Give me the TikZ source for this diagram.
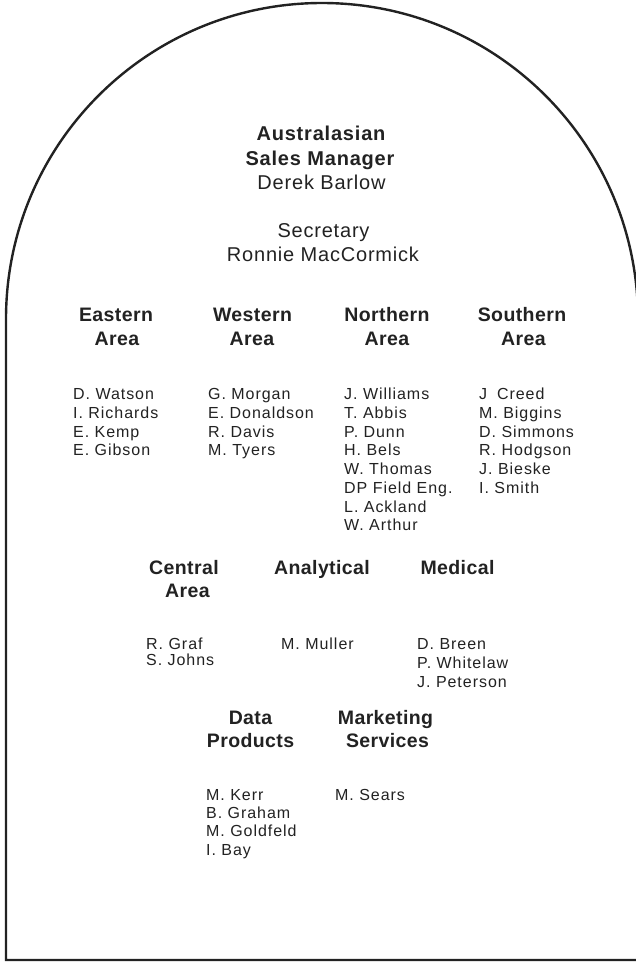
\documentclass[tikz,border=0pt]{standalone}
\usepackage{fontspec}
\setmainfont{Liberation Sans}
\newfontfamily\nmfam[LetterSpace=6]{Liberation Sans}
\newfontfamily\hdfam[LetterSpace=2]{Liberation Sans}
\newfontfamily\tlfam[LetterSpace=4]{Liberation Sans}
\definecolor{ink}{HTML}{222222}
\tikzset{
  nm/.style={anchor=base west, inner sep=0pt, text=ink, font=\nmfam\fontsize{16}{19}\selectfont},
  hd/.style={anchor=base, inner sep=0pt, text=ink, font=\hdfam\bfseries\fontsize{19.5}{23}\selectfont},
  tb/.style={anchor=base, inner sep=0pt, text=ink, font=\tlfam\bfseries\fontsize{20}{24}\selectfont},
  tr/.style={anchor=base, inner sep=0pt, text=ink, font=\tlfam\fontsize{20}{24}\selectfont},
  archline/.style={draw=ink, line width=2.4pt, line join=miter}
}
\newcommand\namecol[5]{%
  \foreach \t [count=\i] in {#5} {\node[nm] (#1\i) at (#2, {#3+(\i-1)*#4}) {\t};}%
}
\begin{document}
\begin{tikzpicture}[x=1pt, y=-1pt]
\useasboundingbox (0,0) rectangle (636,963);
\clip (0,0) rectangle (636,963);
\fill[white] (0,0) rectangle (636,963);
% arch outline
\draw[archline] (6,960) -- (6,319) arc[start angle=180, end angle=360, radius=316] -- (638,960) -- cycle;
% title block
\node[tb] (t1) at (321,140) {Australasian};
\node[tb] (t2) at (320,165) {Sales Manager};
\node[tr] (t3) at (321.5,189) {Derek Barlow};
\node[tr] (t4) at (323.5,237.3) {Secretary};
\node[tr] (t5) at (323,261.7) {Ronnie MacCormick};
% row 1 headings
\node[hd] (ea1) at (116,321.7) {Eastern};
\node[hd] (ea2) at (117,345) {Area};
\node[hd] (wa1) at (252.5,321.7) {Western};
\node[hd] (wa2) at (252,345) {Area};
\node[hd] (na1) at (387,321.7) {Northern};
\node[hd] (na2) at (387,345) {Area};
\node[hd] (sa1) at (522,321.7) {Southern};
\node[hd] (sa2) at (523.5,345) {Area};
% row 1 names
\namecol{ean}{73}{399.5}{18.75}{D. Watson, I. Richards, E. Kemp, E. Gibson}
\namecol{wan}{208}{399.5}{18.75}{G. Morgan, E. Donaldson, R. Davis, M. Tyers}
\namecol{nan}{344}{399.5}{18.75}{J. Williams, T. Abbis, P. Dunn, H. Bels, W. Thomas, DP Field Eng., L. Ackland, W. Arthur}
\namecol{san}{479}{399.5}{18.75}{J\hphantom{.} Creed, M. Biggins, D. Simmons, R. Hodgson, J. Bieske, I. Smith}
% row 2 headings
\node[hd] (ca1) at (184,574.5) {Central};
\node[hd] (ca2) at (187.5,597) {Area};
\node[hd] (an1) at (322,574.5) {Analytical};
\node[hd] (me1) at (457.5,574.5) {Medical};
% row 2 names
\namecol{can}{146}{649.3}{16.5}{R. Graf, S. Johns}
\namecol{ann}{281}{649.3}{19.2}{M. Muller}
\namecol{men}{417}{649.3}{19.2}{D. Breen, P. Whitelaw, J. Peterson}
% row 3 headings
\node[hd] (dp1) at (250.5,724.5) {Data};
\node[hd] (dp2) at (250.5,747.5) {Products};
\node[hd] (ms1) at (385.5,724.5) {Marketing};
\node[hd] (ms2) at (387.5,747.5) {Services};
% row 3 names
\namecol{dpn}{206}{800}{18.4}{M. Kerr, B. Graham, M. Goldfeld, I. Bay}
\namecol{msn}{335}{800}{18.4}{M. Sears}
\end{tikzpicture}
\end{document}
